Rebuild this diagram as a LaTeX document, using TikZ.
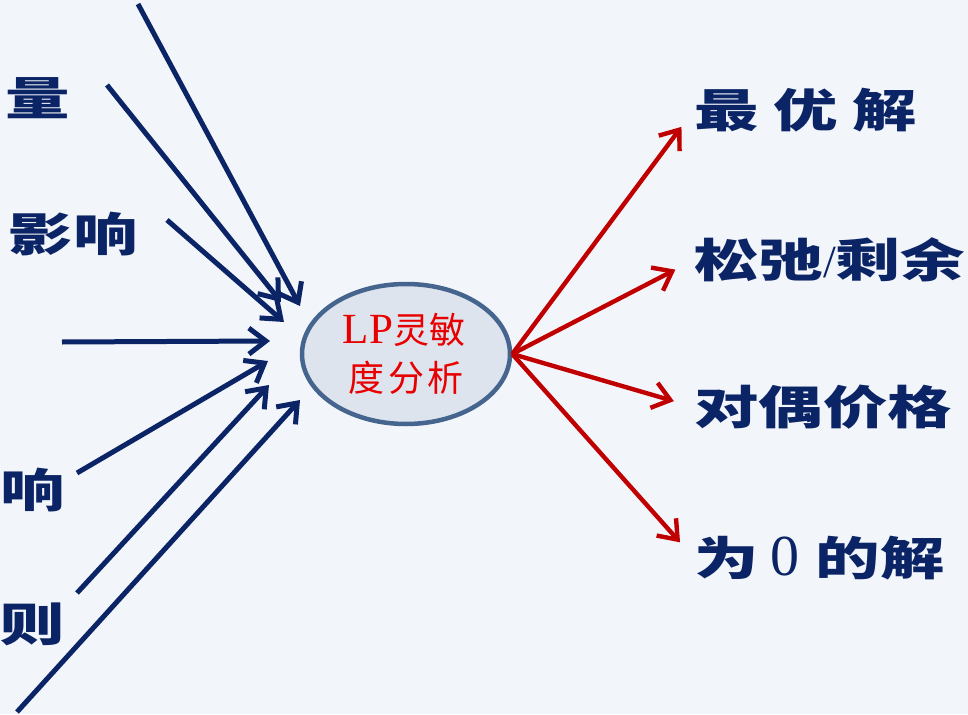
\documentclass[tikz,border=0pt]{standalone}
\usepackage{fontspec}
\usetikzlibrary{arrows.meta,shapes.geometric}
\setmainfont{Liberation Serif}
\newfontfamily\cjk[FakeStretch=1.4]{Noto Sans CJK SC}
\newfontfamily\cjkr{Noto Sans CJK SC}
\definecolor{bgc}{HTML}{F2F5FA}
\definecolor{navy}{HTML}{0B2466}
\definecolor{arrred}{HTML}{C00000}
\definecolor{txtred}{HTML}{E80000}
\definecolor{ellc}{HTML}{45658F}
\definecolor{ellf}{HTML}{DDE4EE}
\tikzset{
  inarrow/.style={draw=navy, line width=5pt, -{Straight Barb[length=17pt,width=26pt,line width=5pt]}},
  outarrow/.style={draw=arrred, line width=4.4pt, -{Straight Barb[length=17pt,width=26pt,line width=4.4pt]}, shorten >=21pt},
  lbl/.style={text=navy, font=\cjk\bfseries\fontsize{46}{50}\selectfont, inner sep=0pt},
  ctext/.style={text=txtred, font=\cjkr\fontsize{36}{38}\selectfont, inner sep=0pt}
}
\begin{document}
\begin{tikzpicture}[x=1pt,y=-1pt]
\fill[bgc] (0,0) rectangle (968,714);
\useasboundingbox (0,0) rectangle (968,714);
% centre ellipse
\node[ellipse, draw=ellc, line width=4.5pt, fill=ellf, minimum width=208pt, minimum height=140pt, inner sep=0pt] (c) at (406,354) {};
\node[ctext] (t1) at (404,330) {{\rmfamily\fontsize{43}{45}\selectfont LP}灵敏};
\node[ctext] (t2) at (406,378) {度\hspace{4pt}分\hspace{4pt}析};
% left labels (cut at the left edge)
\node[lbl, anchor=east] (l1) at (70,98) {量};
\node[lbl, anchor=east] (l2) at (138,234) {影响};
\node[lbl, anchor=east] (l3) at (65,490) {响};
\node[lbl, anchor=east] (l4) at (65,624) {则};
% left arrow ends
\coordinate (s1) at (138,4);   \coordinate (e1) at (300,306);
\coordinate (s2) at (107,85);  \coordinate (e2) at (281,302);
\coordinate (s3) at (167,220); \coordinate (e3) at (284,322);
\coordinate (s4) at (62,342);  \coordinate (e4) at (270,341);
\coordinate (s5) at (77,473);  \coordinate (e5) at (268,361);
\coordinate (s6) at (77,593);  \coordinate (e6) at (269,385);
\coordinate (s7) at (17,712);  \coordinate (e7) at (300,400);
\foreach \i in {1,...,7} { \draw[inarrow] (s\i) -- (e\i); }
% right labels
\node[lbl, anchor=west] (r1) at (694,110) {最\hspace{15pt}优\hspace{15pt}解};
\node[lbl, anchor=west] (r2) at (694,260) {松弛{\rmfamily\mdseries /}剩余};
\node[lbl, anchor=west] (r3) at (694,407) {对偶价格};
\node[lbl, anchor=west] (r4) at (694,558) {为\hspace{12pt}{\rmfamily\mdseries\fontsize{58}{60}\selectfont 0}\hspace{16pt}的解};
\foreach \i in {1,...,4} { \draw[outarrow] (c.east) -- (r\i.west); }
\end{tikzpicture}
\end{document}
